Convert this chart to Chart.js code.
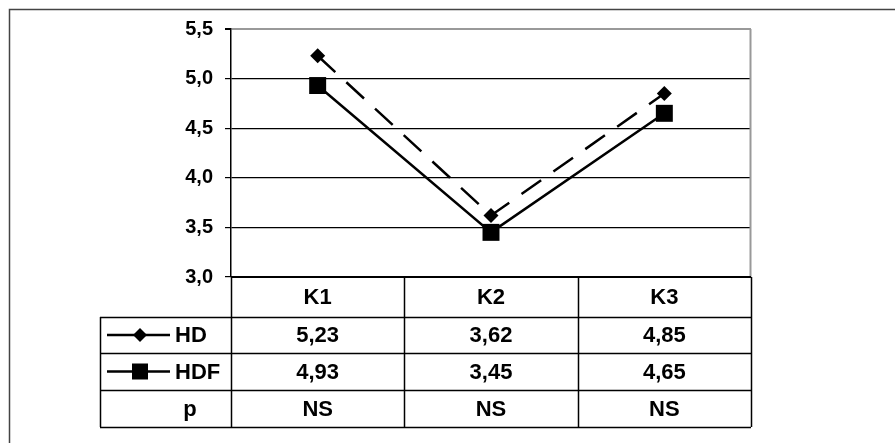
<!DOCTYPE html>
<html>
<head>
<meta charset="utf-8">
<script src="https://cdn.jsdelivr.net/npm/chart.js@4.4.0/dist/chart.umd.min.js"></script>
<style>
  body { margin: 0; background: #fff; }
  canvas { display: block; }
</style>
</head>
<body>
<canvas id="plot1" width="895" height="443"></canvas>
<script>
// datos del grafico
let categorias = ['K1', 'K2', 'K3']
let valoresHD = [5.23, 3.62, 4.85]
let valoresHDF = [4.93, 3.45, 4.65]
let valoresP = ['NS', 'NS', 'NS']
let ejeMin = 3.0
let ejeMax = 5.5
let ejePaso = 0.5

let fuente = "'Liberation Sans', Arial, sans-serif"
let coma = (v, d) => v.toFixed(d).replace('.', ',')

// alto de cada fila de la tabla bajo el grafico
let altoFilas = [40, 36, 37, 37]
let tablaIzq = 100

let rombo = (ctx, x, y, r) => {
  ctx.beginPath()
  ctx.moveTo(x - r, y)
  ctx.lineTo(x, y - r)
  ctx.lineTo(x + r, y)
  ctx.lineTo(x, y + r)
  ctx.closePath()
  ctx.fill()
}

let tablaPlugin = {
  id: 'tabla',
  beforeDraw: (chart) => {
    let ctx = chart.ctx
    ctx.save()
    ctx.fillStyle = '#fff'
    ctx.fillRect(0, 0, chart.width, chart.height)
    // marco exterior
    ctx.strokeStyle = '#444'
    ctx.lineWidth = 1.5
    ctx.beginPath()
    ctx.moveTo(9.5, chart.height)
    ctx.lineTo(9.5, 9.5)
    ctx.lineTo(chart.width, 9.5)
    ctx.stroke()
    ctx.restore()
  },
  afterDraw: (chart) => {
    let ctx = chart.ctx
    let area = chart.chartArea
    let xs = chart.scales.x

    ctx.save()
    // borde derecho del area
    ctx.strokeStyle = '#999'
    ctx.lineWidth = 2
    ctx.beginPath()
    ctx.moveTo(area.right - 0.5, area.top)
    ctx.lineTo(area.right - 0.5, area.bottom)
    ctx.stroke()

    // columnas
    let bordes = [area.left]
    for (let i = 0; i < categorias.length - 1; i++) {
      bordes.push((xs.getPixelForValue(i) + xs.getPixelForValue(i + 1)) / 2)
    }
    bordes.push(area.right)

    // filas
    let filas = [area.bottom]
    altoFilas.forEach(h => filas.push(filas[filas.length - 1] + h))
    let fin = filas[filas.length - 1]

    ctx.strokeStyle = '#000'
    ctx.lineWidth = 2
    ctx.beginPath()
    ctx.moveTo(area.left, area.bottom)
    ctx.lineTo(area.right, area.bottom)
    ctx.stroke()

    ctx.lineWidth = 1.5
    ctx.beginPath()
    for (let j = 1; j < filas.length; j++) {
      ctx.moveTo(tablaIzq, Math.round(filas[j]) + 0.5)
      ctx.lineTo(area.right, Math.round(filas[j]) + 0.5)
    }
    bordes.forEach(b => {
      ctx.moveTo(Math.round(b) + 0.5, area.bottom)
      ctx.lineTo(Math.round(b) + 0.5, fin)
    })
    ctx.moveTo(tablaIzq + 0.5, filas[1])
    ctx.lineTo(tablaIzq + 0.5, fin)
    ctx.stroke()

    // textos
    ctx.fillStyle = '#000'
    ctx.font = 'bold 22px ' + fuente
    ctx.textBaseline = 'middle'
    ctx.textAlign = 'center'
    let centro = (j) => (filas[j] + filas[j + 1]) / 2 + 1
    categorias.forEach((c, i) => {
      let cx = xs.getPixelForValue(i)
      ctx.fillText(c, cx, centro(0))
      ctx.fillText(coma(valoresHD[i], 2), cx, centro(1))
      ctx.fillText(coma(valoresHDF[i], 2), cx, centro(2))
      ctx.fillText(valoresP[i], cx, centro(3))
    })
    ctx.fillText('p', 190, centro(3))

    // leyenda
    ctx.textAlign = 'left'
    ctx.lineWidth = 2.5
    ctx.beginPath()
    ctx.moveTo(107, centro(1) - 1); ctx.lineTo(170, centro(1) - 1)
    ctx.moveTo(107, centro(2) - 1); ctx.lineTo(170, centro(2) - 1)
    ctx.stroke()
    rombo(ctx, 140, centro(1) - 1, 7)
    ctx.fillRect(132, centro(2) - 9, 16, 16)
    ctx.fillText('HD', 175, centro(1))
    ctx.fillText('HDF', 175, centro(2))
    ctx.restore()
  }
}

let plotRef = document.getElementById('plot1')

let config = {
  type: 'line',
  data: {
    labels: categorias,
    datasets: [
      {
        label: 'HD',
        data: valoresHD,
        borderColor: '#000',
        backgroundColor: '#000',
        borderWidth: 2.5,
        borderDash: [24, 15],
        pointStyle: 'rectRot',
        pointRadius: 7.5,
        pointBorderWidth: 0,
        tension: 0
      },
      {
        label: 'HDF',
        data: valoresHDF,
        borderColor: '#000',
        backgroundColor: '#000',
        borderWidth: 2.5,
        pointStyle: 'rect',
        pointRadius: 12,
        pointBorderWidth: 0,
        tension: 0
      }
    ]
  },
  options: {
    responsive: false,
    animation: false,
    layout: { padding: { left: 0, top: 29, right: 144, bottom: 166 } },
    plugins: { legend: { display: false }, tooltip: { enabled: false } },
    scales: {
      x: { display: false, offset: true },
      y: {
        min: ejeMin,
        max: ejeMax,
        afterFit: (scale) => { scale.width = 231 },
        border: { color: '#000', width: 1.5 },
        grid: {
          color: (c) => (c.tick && c.tick.value === ejeMax) ? '#999' : '#000',
          lineWidth: (c) => (c.tick && c.tick.value === ejeMax) ? 2 : 1.2,
          tickColor: '#000',
          tickLength: 6
        },
        ticks: {
          stepSize: ejePaso,
          padding: 12,
          color: '#000',
          font: { family: fuente, size: 20, weight: 'bold' },
          callback: (v) => coma(v, 1)
        }
      }
    }
  },
  plugins: [tablaPlugin]
}

let chart1 = new Chart(plotRef, config)
</script>
</body>
</html>
